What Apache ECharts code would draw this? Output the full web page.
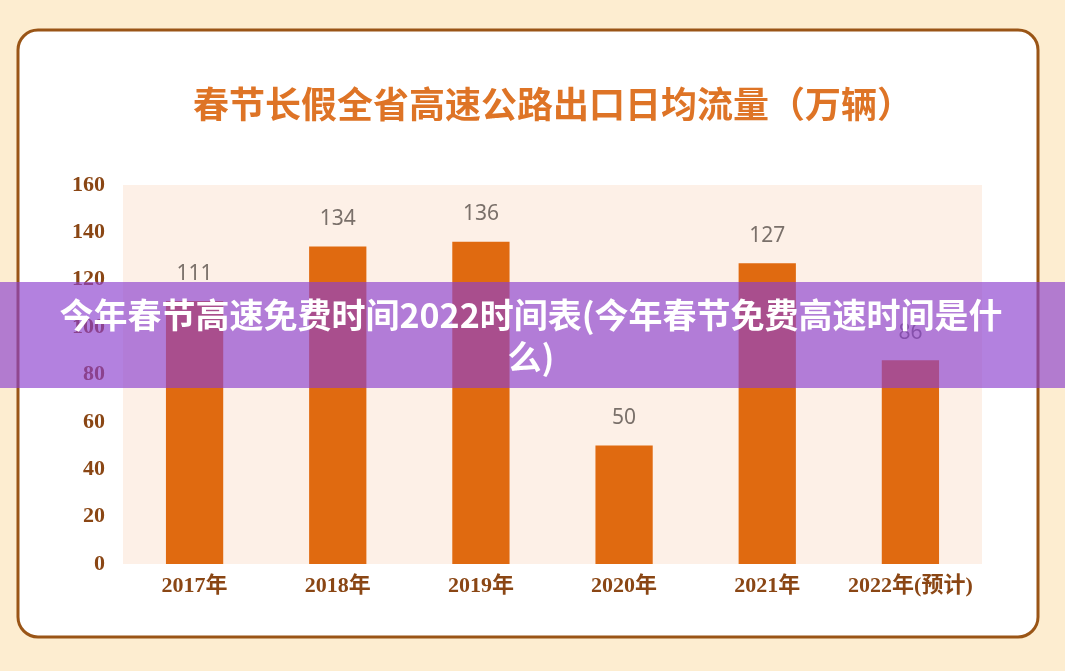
<!DOCTYPE html>
<html>
<head>
<meta charset="utf-8">
<script src="https://cdn.jsdelivr.net/npm/echarts@6/dist/echarts.min.js"></script>
<style>
html,body{margin:0;padding:0;background:#FDEDD0;}
#main{width:1065px;height:671px;}
</style>
</head>
<body>
<div id="main"></div>
<script>
const categories = ['2017年', '2018年', '2019年', '2020年', '2021年', '2022年(预计)'];
const values = [111, 134, 136, 50, 127, 86];
const yTicks = { min: 0, max: 160, interval: 20 };
const titleText = '春节长假全省高速公路出口日均流量（万辆）';
const bannerLines = ['今年春节高速免费时间2022时间表(今年春节免费高速时间是什', '么)'];

const chart = echarts.init(document.getElementById('main'));
const serif = '"Liberation Serif", "Noto Sans CJK SC", serif';
chart.setOption({
  backgroundColor: '#FDEDD0',
  animation: false,
  grid: {
    left: 123, right: 83, top: 185, bottom: 107,
    show: true,
    backgroundColor: '#FDF0E7',
    borderWidth: 0,
    z: 1
  },
  xAxis: {
    type: 'category',
    data: categories,
    axisLine: { show: false },
    axisTick: { show: false },
    axisLabel: {
      interval: 0,
      hideOverlap: false,
      margin: 11,
      color: '#8A4614',
      fontSize: 22,
      fontWeight: 'bold',
      fontFamily: serif
    }
  },
  yAxis: {
    type: 'value',
    min: yTicks.min, max: yTicks.max, interval: yTicks.interval,
    axisLine: { show: false },
    axisTick: { show: false },
    splitLine: { show: false },
    axisLabel: {
      margin: 18,
      color: '#8A4614',
      fontSize: 22,
      fontWeight: 'bold',
      fontFamily: serif
    }
  },
  series: [{
    type: 'bar',
    data: values,
    barWidth: '40%',
    itemStyle: { color: '#E06A10' },
    label: {
      show: true,
      position: 'top',
      distance: 17,
      color: '#7A706A',
      fontSize: 21,
      fontFamily: '"Noto Sans", "Open Sans", sans-serif'
    },
    z: 3
  }],
  graphic: [
    {
      type: 'rect',
      z: -10,
      shape: { x: 18, y: 30, width: 1020, height: 607, r: 20 },
      style: { fill: '#FFFFFF', stroke: '#9A5516', lineWidth: 3 }
    },
    {
      type: 'text',
      z: 5,
      x: 553,
      y: 104,
      style: {
        text: titleText,
        fill: '#DE7426',
        fontSize: 36,
        fontWeight: 'bold',
        fontFamily: '"Noto Sans CJK SC", serif',
        align: 'center',
        verticalAlign: 'middle'
      }
    },
    {
      type: 'rect',
      z: 100,
      shape: { x: 0, y: 282, width: 1065, height: 106 },
      style: { fill: 'rgba(139,64,207,0.66)' }
    },
    {
      type: 'text',
      z: 101,
      x: 531,
      y: 336,
      style: {
        text: bannerLines.join('\n'),
        fill: '#FFFFFF',
        fontSize: 34,
        fontWeight: 'bold',
        lineHeight: 42,
        fontFamily: '"Noto Sans CJK SC", sans-serif',
        align: 'center',
        verticalAlign: 'middle'
      }
    }
  ]
});
</script>
</body>
</html>
